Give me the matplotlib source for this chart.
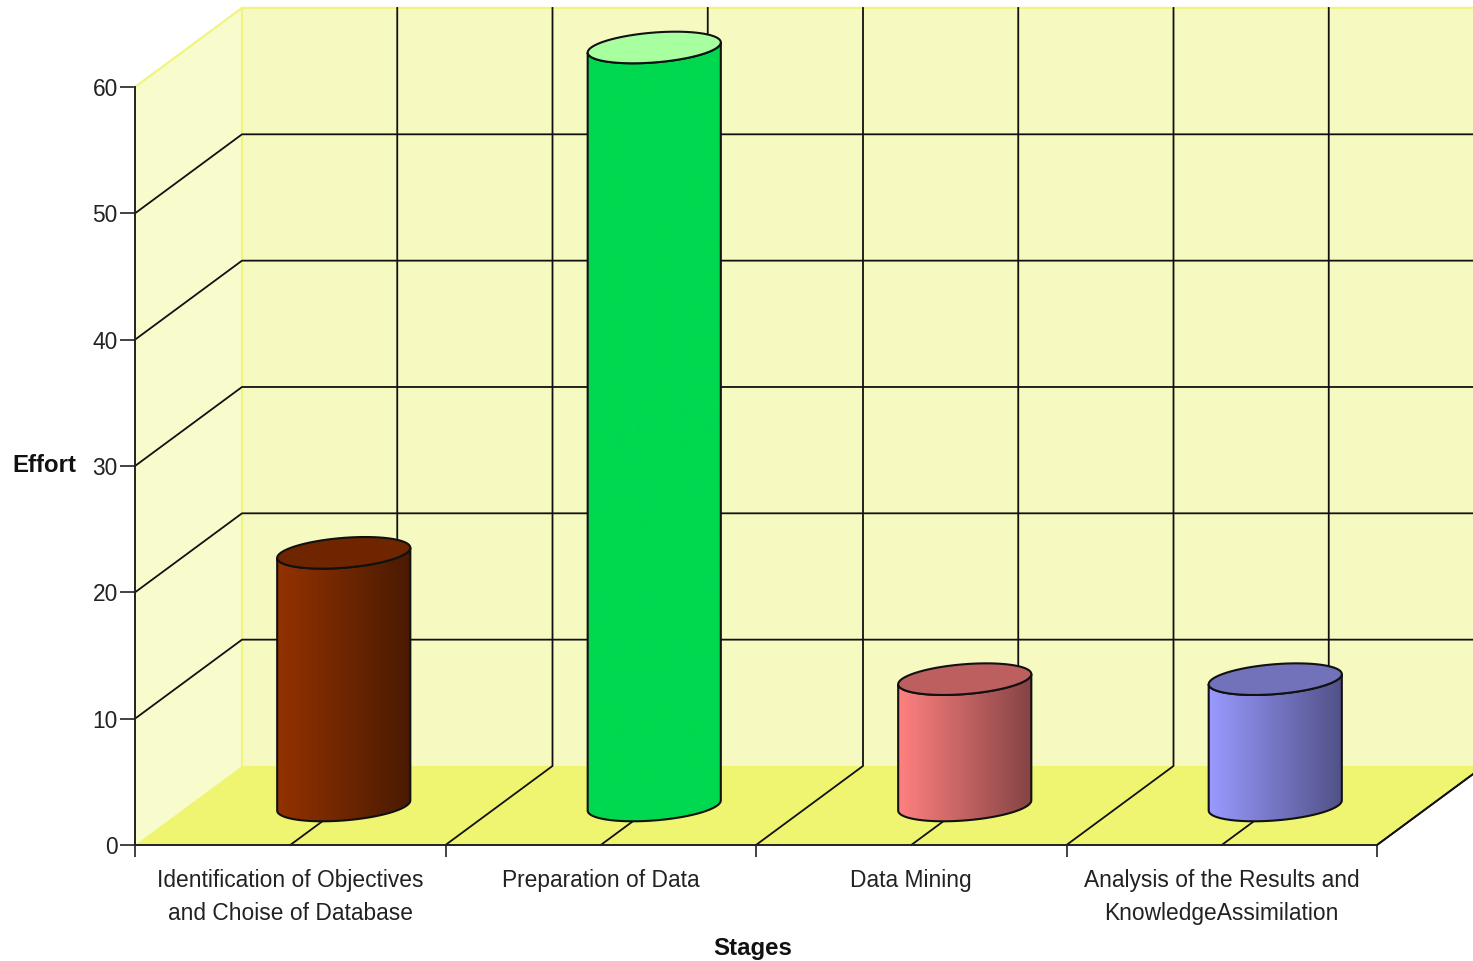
import numpy as np
import matplotlib
matplotlib.use("Agg")
import matplotlib.pyplot as plt
from matplotlib.colors import LinearSegmentedColormap

plt.rcParams['font.family'] = ['Liberation Sans', 'DejaVu Sans']

# data
stages = ["Identification of Objectives\nand Choise of Database", "Preparation of Data",
          "Data Mining", "Analysis of the Results and\nKnowledgeAssimilation"]
effort = [20, 60, 10, 10]
y_ticks = [0, 10, 20, 30, 40, 50, 60]

# bar colours: left side, right side, top
side_left = ["#933200", "#00d84f", "#ff8080", "#9999ff"]
side_right = ["#4a1a00", "#00d84f", "#854444", "#515188"]
top_color = ["#6f2600", "#a8ff9f", "#bd5f5f", "#7272ba"]

# fake 3d depth, in data units
depth_x = 107 / 310.5
depth_y = 79 / 12.63
radius = 0.203
depth_r = 0.2
line = "#111111"
lw = 1.3

fig = plt.figure(figsize=(14.73, 9.61), dpi=100)
ax = fig.add_axes([135 / 1473, 1 - 845 / 961, (1377 - 135) / 1473, (845 - 87) / 961])
ax.patch.set_visible(False)

n = len(stages)

# walls and floor
ax.fill([0, depth_x, depth_x, 0], [0, depth_y, 60 + depth_y, 60], color="#f8fbcc", zorder=1, clip_on=False, lw=0)
ax.fill([depth_x, n + depth_x, n + depth_x, depth_x], [depth_y, depth_y, 60 + depth_y, 60 + depth_y],
        color="#f7fac0", zorder=1, clip_on=False, lw=0)
ax.fill([0, n, n + depth_x, depth_x], [0, 0, depth_y, depth_y], color="#eff570", zorder=1, clip_on=False, lw=0)

# pale yellow edges of the walls
ax.plot([0, depth_x, n + depth_x], [60, 60 + depth_y, 60 + depth_y], color="#f0f580", lw=1.6, zorder=2, clip_on=False)
ax.plot([depth_x, depth_x], [depth_y, 60 + depth_y], color="#f0f580", lw=1.6, zorder=2, clip_on=False)

# grid on the walls
for v in y_ticks[1:-1]:
    ax.plot([0, depth_x, n + depth_x], [v, v + depth_y, v + depth_y], color=line, lw=lw, zorder=3, clip_on=False)

# grid on the floor and back wall, every half category
for i in np.arange(0.5, n + 0.5, 0.5):
    ax.plot([i, i + depth_x, i + depth_x], [0, depth_y, 60 + depth_y], color=line, lw=lw, zorder=3, clip_on=False)
ax.plot([n, n + depth_x], [0, depth_y], color=line, lw=lw, zorder=3, clip_on=False)

# cylinders
t_right = np.arctan2(depth_x * depth_r, radius)
t_ring = np.linspace(0, 2 * np.pi, 120)
t_front = np.linspace(t_right, t_right - np.pi, 60)


def ring(cx, v, t):
    d = 0.5 + depth_r * np.sin(t)
    return cx + radius * np.cos(t) + depth_x * d, v + depth_y * d


for i, val in enumerate(effort):
    cx = i + 0.5
    x_low, y_low = ring(cx, 0, t_front)
    x_high, y_high = ring(cx, val, t_front)
    body_x = np.concatenate([x_low, x_high[::-1]])
    body_y = np.concatenate([y_low, y_high[::-1]])

    cmap = LinearSegmentedColormap.from_list("side", [side_left[i], side_right[i]])
    ax.fill(body_x, body_y, facecolor="none", edgecolor=line, lw=lw + 0.2, zorder=6, clip_on=False)
    im = ax.imshow(np.linspace(0, 1, 64).reshape(1, -1), cmap=cmap, aspect="auto", zorder=5,
                   extent=[body_x.min(), body_x.max(), body_y.min(), body_y.max()])
    clip = ax.fill(body_x, body_y, facecolor="none", edgecolor="none", zorder=4, clip_on=False)[0]
    # bars stick out over the top of the axes, so clip to the figure and the outline only
    im.set_clip_box(fig.bbox)
    im.set_clip_path(clip)

    x_top, y_top = ring(cx, val, t_ring)
    ax.fill(x_top, y_top, facecolor=top_color[i], edgecolor=line, lw=lw + 0.2, zorder=7, clip_on=False)

ax.set_xlim(0, n)
ax.set_ylim(0, 60)

for s in ["top", "right"]:
    ax.spines[s].set_visible(False)
for s in ["left", "bottom"]:
    ax.spines[s].set_color("#222222")
    ax.spines[s].set_linewidth(1.4)
    ax.spines[s].set_zorder(8)

ax.set_yticks(y_ticks)
ax.tick_params(axis="y", length=10.5, width=1.2, color="#222222", labelsize=16.4, pad=2, labelcolor="#222222")
ax.set_xticks(range(n + 1))
ax.set_xticklabels([])
ax.tick_params(axis="x", which="major", length=8.5, width=1.2, color="#222222")
ax.set_xticks(np.arange(n) + 0.5, minor=True)
ax.set_xticklabels(stages, minor=True, fontsize=16.4, color="#222222", linespacing=1.53)
ax.tick_params(axis="x", which="minor", length=0, pad=17.5)

ax.set_xlabel("Stages", fontsize=17.3, fontweight="bold", color="#111111")
ax.xaxis.set_label_coords((753 - 135) / 1242, -(948 - 845) / 758, transform=ax.transAxes)
ax.xaxis.label.set_va("center")
ax.set_ylabel("Effort", fontsize=17.3, fontweight="bold", rotation=0, ha="center", va="center", color="#111111")
ax.yaxis.set_label_coords((44.5 - 135) / 1242, (845 - 465) / 758, transform=ax.transAxes)

fig.savefig("out.png", dpi=100)
